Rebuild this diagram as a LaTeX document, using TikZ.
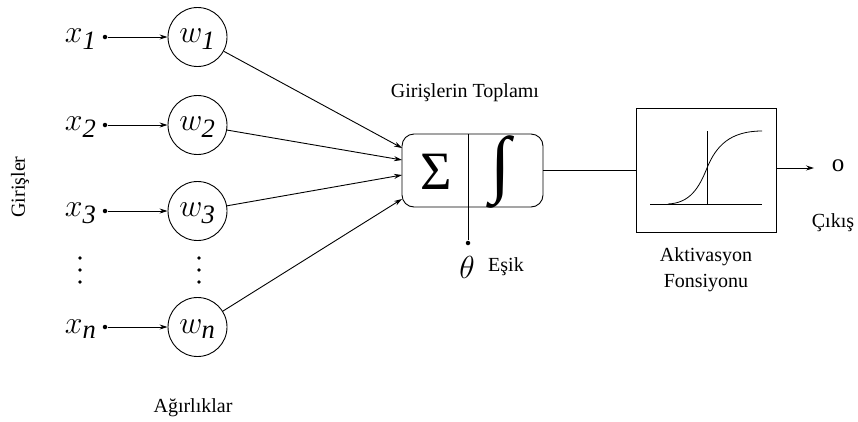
\documentclass[tikz,border=0pt]{standalone}
\usepackage{graphicx}
\usepackage{fontspec}
\setmainfont{Liberation Serif}
\usetikzlibrary{arrows.meta}

% italic variable with italic index, enlarged beyond the fixed math sizes
\newcommand{\varidx}[2]{{\fontsize{24.88}{25}\selectfont\scalebox{1.28}{$#1_{\mathit{#2}}$}}}

\begin{document}
\begin{tikzpicture}[x=1pt,y=-1pt,
    line width=0.9pt,
    lbl/.style={font=\fontsize{20}{23}\selectfont, inner sep=0pt},
    weight/.style={draw, circle, minimum size=59pt, inner sep=0pt},
    dotnode/.style={circle, fill, inner sep=0pt, minimum size=4.5pt},
    tip/.style={-{Stealth[length=8pt,width=5pt]}},
    vdots/.style={circle, fill, inner sep=0pt, minimum size=3.6pt}]
  \useasboundingbox (0,0) rectangle (858,421);

  % inputs, weights
  \foreach \r/\y/\s in {1/37/1, 2/125/2, 3/211/3, n/327/n} {
    \node[anchor=east, inner sep=0pt] (x\r) at (97,\y+2) {\varidx{x}{\s}};
    \node[dotnode] (d\r) at (105,\y) {};
    \node[weight] (w\r) at (197.5,\y) {};
    \node[inner sep=0pt] (lw\r) at (197.5,\y+2) {\varidx{w}{\s}};
    \draw[tip] (d\r) -- (w\r);
  }

  % vertical ellipsis between rows 3 and n
  \foreach \c in {80,199} {
    \foreach \yy in {258,270,282} {
      \node[vdots] at (\c,\yy) {};
    }
  }

  % summation / integration block
  \node[draw, rounded corners=12pt, minimum width=141pt, minimum height=73pt,
        inner sep=0pt] (sum) at (472.5,170.5) {};
  \coordinate (divtop) at (468,134);
  \coordinate (divbot) at (468,207);
  \draw (divtop) -- (divbot);
  \node[inner sep=0pt, font=\fontsize{54}{54}\selectfont] (sigma) at (436,172) {Σ};
  \node[inner sep=0pt, font=\fontsize{74}{74}\selectfont] (integ) at (501,172) {∫};

  % weighted inputs into the block
  \coordinate (in1) at (402,148);
  \coordinate (in2) at (402,160);
  \coordinate (in3) at (402,175);
  \coordinate (in4) at (402,199);
  \draw[tip] (w1) -- (in1);
  \draw[tip] (w2) -- (in2);
  \draw[tip] (w3) -- (in3);
  \draw[tip] (wn) -- (in4);

  % threshold
  \node[dotnode] (thdot) at (468,243) {};
  \draw (divbot) -- (thdot);
  \node[inner sep=0pt, font=\fontsize{24.88}{25}\selectfont] (theta) at (467,267) {\scalebox{1.28}{$\theta$}};
  \node[lbl] (esik) at (506,267) {Eşik};

  \node[lbl] (toplam) at (465,93) {Girişlerin Toplamı};

  % activation block
  \node[draw, minimum width=140pt, minimum height=124pt, inner sep=0pt] (act) at (706,170) {};
  \draw (sum.east |- 0,170) -- (act.west);
  \coordinate (axl) at (650,204);
  \coordinate (axr) at (762,204);
  \coordinate (vtop) at (707,131);
  \coordinate (vbot) at (707,204);
  \draw (axl) -- (axr);
  \draw (vtop) -- (vbot);
  \draw[line width=0.8pt] (668,204) .. controls (690,203) and (699,188) .. (707,168)
        .. controls (716,146) and (730,131) .. (762,131);

  % output
  \coordinate (outend) at (814,168);
  \draw[tip] (act.east |- 0,168) -- (outend);
  \node[inner sep=0pt, font=\fontsize{25}{25}\selectfont] (o) at (838,166) {o};
  \node[lbl] (cikis) at (833,223) {Çıkış};

  \node[lbl, align=center] (actlbl) at (706,270) {Aktivasyon\\[3pt]Fonsiyonu};

  \node[lbl] (agirlik) at (193,408) {Ağırlıklar};
  \node[lbl, rotate=90] (girisler) at (20,187) {Girişler};
\end{tikzpicture}
\end{document}
